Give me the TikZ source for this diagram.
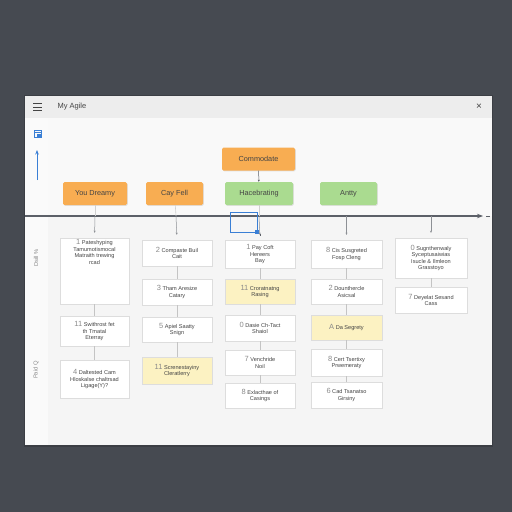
\documentclass[tikz,border=0pt]{standalone}
\usepackage{fontspec}
\setmainfont{Liberation Sans}
\usetikzlibrary{shadows,arrows.meta}
\definecolor{bgdark}{HTML}{464A51}
\definecolor{winbg}{HTML}{F5F5F5}
\definecolor{titlebg}{HTML}{EDEDED}
\definecolor{sidebg}{HTML}{FAFAFA}
\definecolor{topbg}{HTML}{F9F9F9}
\definecolor{cardline}{HTML}{DDDDDD}
\definecolor{cardtext}{HTML}{444444}
\definecolor{numgrey}{HTML}{8A8A8A}
\definecolor{orangebox}{HTML}{F8AD52}
\definecolor{greenbox}{HTML}{AADB90}
\definecolor{yellowcard}{HTML}{FCF2C2}
\definecolor{linegrey}{HTML}{5C6068}
\definecolor{conngrey}{HTML}{C4C4C4}
\definecolor{selblue}{HTML}{3A7FD5}
\newcommand\nm[1]{{\color{numgrey}\fontsize{7.5}{7}\selectfont #1}\ }
\begin{document}
\begin{tikzpicture}[x=1pt,y=-1pt,
  card/.style={draw=cardline, fill=white, line width=0.4pt,
    drop shadow={shadow xshift=0.9pt, shadow yshift=-0.9pt, opacity=0.22},
    font=\fontsize{5.6}{6.6}\selectfont, text=cardtext, align=center,
    inner sep=1.5pt},
  ycard/.style={card, fill=yellowcard},
  cardtxt/.style={font=\fontsize{5.6}{6.6}\selectfont, text=cardtext, align=center, inner sep=1.5pt},
  phase/.style={rounded corners=1.5pt, draw=none,
    drop shadow={shadow xshift=0.8pt, shadow yshift=-0.8pt, opacity=0.2},
    font=\fontsize{7.3}{8}\selectfont, text=cardtext, minimum height=23pt},
  obox/.style={phase, fill=orangebox},
  gbox/.style={phase, fill=greenbox},
  conn/.style={draw=conngrey, line width=0.6pt},
  tick/.style={draw=linegrey!70, line width=0.5pt, -{Stealth[length=2.2pt,width=2pt]}, shorten >=5pt},
  sidelabel/.style={font=\fontsize{5.8}{6}\selectfont, text=numgrey, rotate=90}
]
\useasboundingbox (0,0) rectangle (512,512);
\fill[bgdark] (0,0) rectangle (512,512);
% window
\fill[black, opacity=0.15] (24,95) rectangle (493,446.5);
\fill[winbg] (25,96) rectangle (492,445);
\fill[topbg] (48,118) rectangle (492,216);
\fill[sidebg] (25,118) rectangle (48,445);
\fill[titlebg] (25,96) rectangle (492,118);
% title bar
\foreach \yy in {103.5,107,110.5} \draw[cardtext, line width=0.7pt] (33,\yy) -- (42,\yy);
\node[font=\fontsize{7.5}{8}\selectfont, text=cardtext, anchor=west] (title) at (54,107) {My Agile};
\node[font=\fontsize{10}{10}\selectfont, text=cardtext] (close) at (479,107) {×};
% side icons
\draw[selblue, line width=0.6pt] (34,130) rectangle (41,137);
\draw[selblue, line width=0.6pt] (34,132) -- (41,132);
\fill[selblue] (37,133.5) rectangle (40.5,136.5);
\coordinate (arrbot) at (37,180);
\coordinate (arrtop) at (37,150);
\draw[selblue, line width=0.9pt, -{Stealth[length=4.5pt,width=3.5pt]}] (arrbot) -- (arrtop);
\node[sidelabel] (lab1) at (36,258) {Dsill \%};
\node[sidelabel] (lab2) at (36,370) {Paid Q};
% phase boxes
\node[obox, minimum width=73pt] (commodate) at (258.5,159) {Commodate};
\node[obox, minimum width=64pt] (dreamy) at (95,193.5) {You Dreamy};
\node[obox, minimum width=57pt] (cayfell) at (174.5,193.5) {Cay Fell};
\node[gbox, minimum width=68pt] (hace) at (259,193.5) {Hacebrating};
\node[gbox, minimum width=57pt] (antty) at (348.5,193.5) {Antty};
\draw[linegrey, line width=0.5pt, -{Stealth[length=2.2pt,width=2pt]}] (commodate) -- (hace);
% timeline
\coordinate (tlstart) at (25,216);
\coordinate (tlend) at (483,216);
\draw[linegrey, line width=1.1pt, -{Stealth[length=6pt,width=4.5pt]}] (tlstart) -- (tlend);
\coordinate (dashA) at (486,216);
\coordinate (dashB) at (490,216);
\draw[linegrey, line width=0.8pt] (dashA) -- (dashB);
\coordinate (t1) at (95,216);
\coordinate (t2) at (176,216);
\coordinate (t3) at (259,216);
\coordinate (t4) at (346.5,216);
\coordinate (t5) at (431,216);
\draw[conn, draw=conngrey!80] (dreamy) -- (t1);
\draw[conn, draw=conngrey!80] (cayfell) -- (t2);
\draw[conn, draw=conngrey!80] (hace) -- (t3);
% selection
\draw[selblue, line width=0.9pt] (230,212) rectangle (257,232);
\fill[selblue] (254.5,229.5) rectangle (258.5,233.5);
\fill[linegrey] (259.5,234) rectangle (261,235.5);
% column 1
\node[card, minimum width=69pt, minimum height=66pt] (c1a) at (94.5,271) {};
\node[cardtxt, below] (c1at) at (c1a.north) {\nm{1}Pateshyping\\ Tamumotismocal\\ Matraith trewing\\ rcad};
\node[card, minimum width=69pt, minimum height=30pt] (c1b) at (94.5,331) {\nm{11}Swithrost fet\\ th Tmatal\\ Eterray};
\node[card, minimum width=69pt, minimum height=38pt] (c1c) at (94.5,379) {\nm{4}Daltested Cam\\ Hloskalse chaltrsad\\ Ligage(Y)?};
% column 2
\node[card, minimum width=70pt, minimum height=26pt] (c2a) at (177,253) {\nm{2}Compaste Buil\\ Cait};
\node[card, minimum width=70pt, minimum height=26pt] (c2b) at (177,292) {\nm{3}Tham Aresize\\ Catary};
\node[card, minimum width=70pt, minimum height=25pt] (c2c) at (177,329.5) {\nm{5}Apiel Saatty\\ Snign};
\node[ycard, minimum width=70pt, minimum height=27pt] (c2d) at (177,370.5) {\nm{11}Screnestayiny\\ Cleratlerry};
% column 3
\node[card, minimum width=70pt, minimum height=28pt] (c3a) at (260,254) {\nm{1}Pay Coft\\ Hereers\\ Bay};
\node[ycard, minimum width=70pt, minimum height=25pt] (c3b) at (260,291.5) {\nm{11}Croratnatng\\ Rasing};
\node[card, minimum width=70pt, minimum height=26pt] (c3c) at (260,328) {\nm{0}Dasie Ch-Tact\\ Shaiol};
\node[card, minimum width=70pt, minimum height=25pt] (c3d) at (260,362.5) {\nm{7}Venchride\\ Noil};
\node[card, minimum width=70pt, minimum height=25pt] (c3e) at (260,395.5) {\nm{8}Exlacthae of\\ Casings};
% column 4
\node[card, minimum width=71pt, minimum height=28pt] (c4a) at (346.5,254) {\nm{8}Cis Susgreted\\ Fosp Cleng};
\node[card, minimum width=71pt, minimum height=25pt] (c4b) at (346.5,291.5) {\nm{2}Dounthercle\\ Asicsal};
\node[ycard, minimum width=71pt, minimum height=25pt] (c4c) at (346.5,327.5) {\nm{A}Da Segrety};
\node[card, minimum width=71pt, minimum height=27pt] (c4d) at (346.5,362.5) {\nm{8}Cert Tsertixy\\ Prwemeraty};
\node[card, minimum width=71pt, minimum height=26pt] (c4e) at (346.5,395) {\nm{6}Cad Tsanatso\\ Girsiny};
% column 5
\node[card, minimum width=72pt, minimum height=40pt] (c5a) at (431,258) {\nm{0}Sugnthenwaly\\ Syceptusaiwias\\ Isucle \& Ilmleon\\ Grasstoyo};
\node[card, minimum width=72pt, minimum height=26pt] (c5b) at (431,300) {\nm{7}Deyelat Sesand\\ Cass};
% ticks from timeline
\draw[tick] (t1) -- (c1a.north);
\draw[tick] (t2) -- (c2a.north);
\draw[tick] (t3) -- (c3a.north);
\draw[tick] (t4) -- (c4a.north);
\draw[tick] (t5) -- (c5a.north);
% column connectors
\draw[conn] (c1a) -- (c1b);
\draw[conn] (c1b) -- (c1c);
\draw[conn] (c2a) -- (c2b);
\draw[conn] (c2b) -- (c2c);
\draw[conn] (c2c) -- (c2d);
\draw[conn] (c3a) -- (c3b);
\draw[conn] (c3b) -- (c3c);
\draw[conn] (c3c) -- (c3d);
\draw[conn] (c3d) -- (c3e);
\draw[conn] (c4a) -- (c4b);
\draw[conn] (c4b) -- (c4c);
\draw[conn] (c4c) -- (c4d);
\draw[conn] (c4d) -- (c4e);
\draw[conn] (c5a) -- (c5b);
\end{tikzpicture}
\end{document}
